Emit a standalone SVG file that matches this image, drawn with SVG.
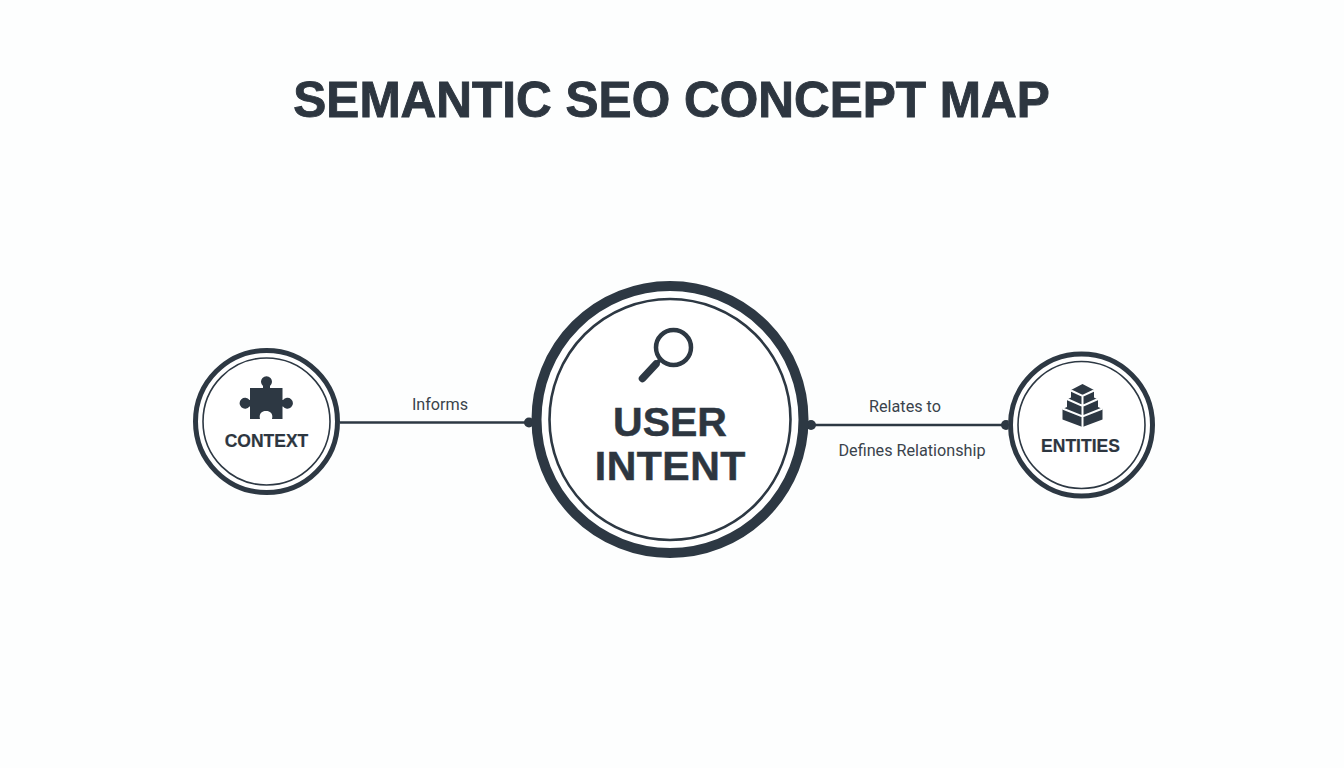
<svg xmlns="http://www.w3.org/2000/svg" width="1344" height="768" viewBox="0 0 1344 768">
<style>
text{font-family:"Liberation Sans",Arial,sans-serif;fill:#2d3640;text-anchor:middle}
.b{font-weight:700;stroke:#2d3640;stroke-width:.2px}
.m{stroke-width:.5px}
.l{font-family:Roboto,"Liberation Sans",sans-serif;font-size:16.2px;font-weight:400;fill:#3a434c}
.ring{fill:none;stroke:#2d3843}
.ink{fill:#2d3843}
.cut{stroke:#fdfefe;stroke-width:2;fill:none}
.wire{stroke:#2d3843;stroke-width:2.4;fill:none}
</style>
<rect width="1344" height="768" fill="#fdfefe"/>
<text id="title" class="b" x="671.500" y="117" font-size="49.500" style="stroke-width:.9px">SEMANTIC SEO CONCEPT MAP</text>
<g id="connectors">
<line class="wire" x1="340" y1="422.500" x2="530" y2="422.500"/>
<circle class="ink" cx="529" cy="422.500" r="5"/>
<line class="wire" x1="808" y1="425" x2="1008" y2="425"/>
<circle class="ink" cx="811" cy="425" r="5"/>
<circle class="ink" cx="1006" cy="425" r="5"/>
<text class="l" x="440" y="409.500">Informs</text>
<text class="l" x="905" y="411.500">Relates to</text>
<text class="l" x="912" y="455.500">Defines Relationship</text>
</g>
<g id="context">
<circle cx="266.500" cy="421.500" r="73" fill="#fff"/>
<circle class="ring" cx="266.500" cy="421.500" r="71" stroke-width="5"/>
<circle class="ring" cx="266.500" cy="421.500" r="63.500" stroke-width="1.600"/>
<path class="ink" d="M250 388H263V386A5.500 5.500 0 1 1 270 386V388H282.500V400H283A5.500 5.500 0 1 1 283 406.500H282.500V419H272C272.500 417 272.500 415 271.500 413.500C270 411.500 268 411 266 411C264 411 262 411.500 260.500 413.500C259.500 415 259.500 417 260 419H250V406.500H249.500A5.500 5.500 0 1 1 249.500 400H250Z"/>
<text class="b" x="266.500" y="446.500" font-size="17.500">CONTEXT</text>
</g>
<g id="user-intent">
<circle cx="670" cy="419.500" r="136" fill="#fff"/>
<circle class="ring" cx="670" cy="419.500" r="133.500" stroke-width="10"/>
<circle class="ring" cx="670" cy="419.500" r="120.500" stroke-width="2.600"/>
<circle class="ring" cx="673.500" cy="347.500" r="17.500" stroke-width="4.500"/>
<line x1="660" y1="360" x2="655" y2="365" stroke="#2d3843" stroke-width="4"/>
<line x1="656" y1="364" x2="642.500" y2="378.500" stroke="#2d3843" stroke-width="7.500" stroke-linecap="round"/>
<text class="b m" x="670" y="436" font-size="41">USER</text>
<text class="b m" x="670.300" y="479.500" font-size="41" letter-spacing=".5">INTENT</text>
</g>
<g id="entities">
<circle cx="1081.500" cy="425" r="73" fill="#fff"/>
<circle class="ring" cx="1081.500" cy="425" r="71" stroke-width="5"/>
<circle class="ring" cx="1081.500" cy="425" r="63.500" stroke-width="1.600"/>
<path class="ink" d="M1082.500 384L1094 390V397.500L1098 399.500V407L1102.500 409V419.500L1082.500 427L1062.500 419.500V409L1067 407V399.500L1071 397.500V390Z"/>
<path class="cut" d="M1071 390.500L1082.500 396L1094 390.500M1082.500 396V427M1067 399L1082.500 406L1098 399M1062.500 408.500L1082.500 416.500L1102.500 408.500"/>
<text class="b" x="1080.500" y="452" font-size="17.500">ENTITIES</text>
</g>
</svg>
